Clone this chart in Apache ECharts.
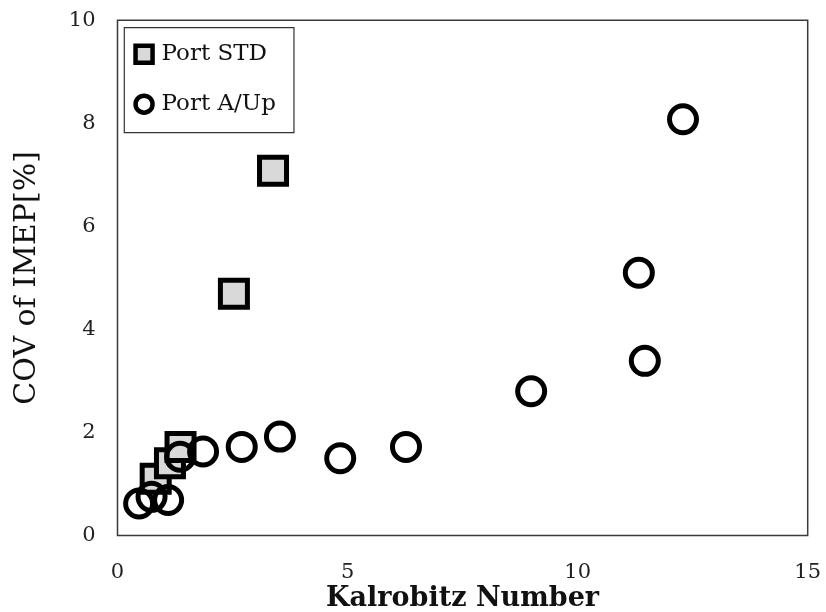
<!DOCTYPE html>
<html>
<head>
<meta charset="utf-8">
<script src="https://cdn.jsdelivr.net/npm/echarts@6/dist/echarts.min.js"></script>
<style>html,body{margin:0;padding:0;background:#fff}#c{width:826px;height:612px}</style>
</head>
<body>
<div id="c"></div>
<script>
const seriesNames = ['Port STD', 'Port A/Up'];
const stdX = [0.83, 1.14, 1.37, 2.53, 3.38];
const stdY = [1.10, 1.40, 1.72, 4.69, 7.08];
const upX = [0.47, 0.74, 1.10, 1.36, 1.86, 2.70, 3.53, 4.84, 6.27, 8.99, 11.33, 11.46, 12.29];
const upY = [0.62, 0.75, 0.69, 1.53, 1.63, 1.72, 1.92, 1.50, 1.72, 2.80, 5.10, 3.39, 8.08];
const xTicks = [0, 5, 10, 15];
const yTicks = [0, 2, 4, 6, 8, 10];
const xTitle = 'Kalrobitz Number';
const yTitle = 'COV of IMEP[%]';

const font = 'DejaVu Serif';
const chart = echarts.init(document.getElementById('c'));
chart.setOption({
  animation: false,
  backgroundColor: '#fff',
  grid: {left: 117.5, right: 18.3, top: 20.3, bottom: 76.5, show: true, borderColor: '#3a3a3a', borderWidth: 1.5, backgroundColor: 'transparent', containLabel: false, outerBoundsMode: 'none'},
  xAxis: {
    type: 'value', min: xTicks[0], max: xTicks[xTicks.length-1], interval: 5,
    axisLine: {show: false}, axisTick: {show: false}, splitLine: {show: false},
    axisLabel: {fontFamily: font, fontSize: 21, color: '#222', margin: 27, formatter: v => xTicks.includes(v) ? String(v) : ''},
    name: xTitle, nameLocation: 'middle', nameGap: 50, nameMoveOverlap: false,
    nameTextStyle: {fontFamily: font, fontSize: 27, fontWeight: 'bold', color: '#111'}
  },
  yAxis: {
    type: 'value', min: yTicks[0], max: yTicks[yTicks.length-1], interval: 2,
    axisLine: {show: false}, axisTick: {show: false}, splitLine: {show: false},
    axisLabel: {fontFamily: font, fontSize: 21, color: '#222', margin: 22, formatter: v => yTicks.includes(v) ? String(v) : ''},
    name: yTitle, nameLocation: 'middle', nameGap: 75, nameMoveOverlap: false,
    nameTextStyle: {fontFamily: font, fontSize: 30, color: '#111'}
  },
  legend: {
    orient: 'vertical', left: 124.3, top: 27.7,
    padding: [15, 18, 17, 9], itemGap: 27, itemWidth: 17, itemHeight: 17,
    borderColor: '#333', borderWidth: 1.2, backgroundColor: '#fff',
    textStyle: {fontFamily: font, fontSize: 23, lineHeight: 22, color: '#111', padding: [0, 0, 0, 4]},
    data: [
      {name: seriesNames[0], icon: 'rect', itemStyle: {color: '#d9d9d9', borderColor: '#000', borderWidth: 4.5}},
      {name: seriesNames[1], icon: 'circle', itemStyle: {color: 'rgba(255,255,255,0)', borderColor: '#000', borderWidth: 4.5}}
    ]
  },
  series: [
    {
      name: seriesNames[0], type: 'scatter', symbol: 'rect', symbolSize: 27,
      data: stdX.map((x, i) => [x, stdY[i]]),
      itemStyle: {color: '#d9d9d9', borderColor: '#000', borderWidth: 5, opacity: 1}
    },
    {
      name: seriesNames[1], type: 'scatter', symbol: 'circle', symbolSize: 27,
      data: upX.map((x, i) => [x, upY[i]]),
      itemStyle: {color: 'rgba(255,255,255,0)', borderColor: '#000', borderWidth: 5, opacity: 1}
    }
  ]
});
</script>
</body>
</html>
